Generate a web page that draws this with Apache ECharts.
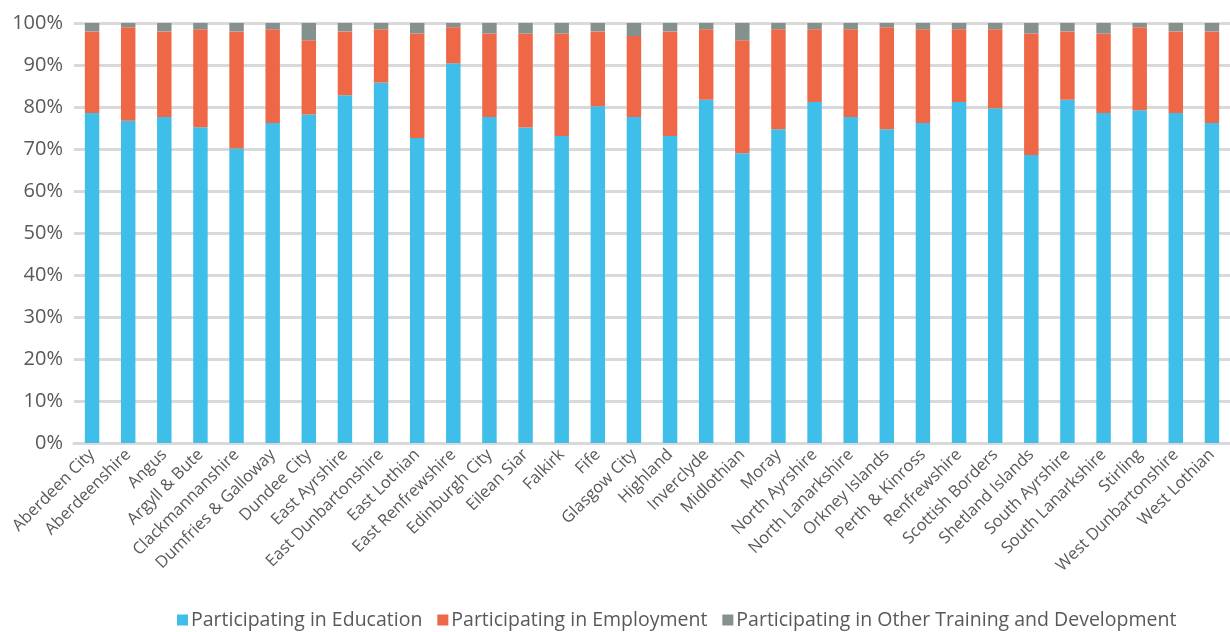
<!DOCTYPE html>
<html><head><meta charset="utf-8">
<script src="https://cdn.jsdelivr.net/npm/echarts@6/dist/echarts.min.js"></script>
<style>html,body{margin:0;padding:0;background:#fff}#c{width:1230px;height:632px}</style>
</head><body><div id="c"></div>
<script>
const categories = ["Aberdeen City","Aberdeenshire","Angus","Argyll & Bute","Clackmannanshire","Dumfries & Galloway","Dundee City","East Ayrshire","East Dunbartonshire","East Lothian","East Renfrewshire","Edinburgh City","Eilean Siar","Falkirk","Fife","Glasgow City","Highland","Inverclyde","Midlothian","Moray","North Ayrshire","North Lanarkshire","Orkney Islands","Perth & Kinross","Renfrewshire","Scottish Borders","Shetland Islands","South Ayrshire","South Lanarkshire","Stirling","West Dunbartonshire","West Lothian"];
const education = [78.6,76.7,77.6,75.2,70.1,76.2,78.2,82.8,85.8,72.6,90.4,77.6,75.1,73.1,80.2,77.6,73.1,81.7,69.0,74.7,81.2,77.6,74.7,76.2,81.2,79.7,68.6,81.7,78.6,79.2,78.6,76.2];
const employment = [19.4,22.3,20.4,23.3,27.9,22.3,17.7,15.2,12.7,24.9,8.6,19.9,22.4,24.4,17.8,19.3,24.9,16.8,26.9,23.8,17.3,20.9,24.3,22.3,17.3,18.8,28.9,16.3,18.9,19.8,19.4,21.8];
const other = [2.0,1.0,2.0,1.5,2.0,1.5,4.1,2.0,1.5,2.5,1.0,2.5,2.5,2.5,2.0,3.1,2.0,1.5,4.1,1.5,1.5,1.5,1.0,1.5,1.5,1.5,2.5,2.0,2.5,1.0,2.0,2.0];
const seriesNames = ["Participating in Education","Participating in Employment","Participating in Other Training and Development"];
const colors = ["#3EBEE8","#EE6746","#84918D"];
const font = "'Open Sans', sans-serif";
const chart = echarts.init(document.getElementById('c'));
const mk = (name, data, i) => ({
  name, type: 'bar', stack: 'total', data, barWidth: '40%',
  itemStyle: { color: colors[i] }, emphasis: { disabled: true }
});
chart.setOption({
  animation: false,
  color: colors,
  grid: { left: 74, right: -11, top: 23, bottom: 189, containLabel: false },
  xAxis: {
    type: 'category', data: categories,
    axisLine: { show: true, lineStyle: { color: '#d9d9d9', width: 3 } },
    axisTick: { show: false },
    axisLabel: { rotate: 45, interval: 0, margin: 9, fontSize: 16.5, color: '#595959', fontFamily: font }
  },
  yAxis: {
    type: 'value', min: 0, max: 100, interval: 10,
    axisLine: { show: false }, axisTick: { show: false },
    axisLabel: { formatter: '{value}%', fontSize: 20, color: '#595959', margin: 11, fontFamily: font },
    splitLine: { lineStyle: { color: '#d9d9d9', width: 3 } }
  },
  legend: {
    top: 605, left: 172, itemWidth: 11, itemHeight: 11, itemGap: 15,
    icon: 'rect',
    textStyle: { fontSize: 19.5, color: '#595959', fontFamily: font, padding: [0,0,0,-2] },
    data: seriesNames
  },
  series: [mk(seriesNames[0], education, 0), mk(seriesNames[1], employment, 1), mk(seriesNames[2], other, 2)]
});
</script></body></html>
